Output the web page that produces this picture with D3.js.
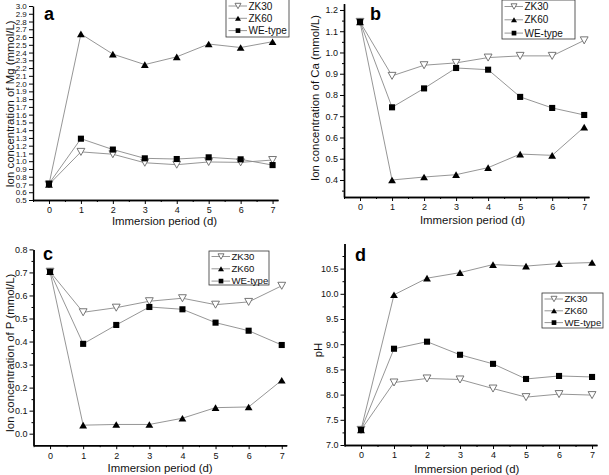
<!DOCTYPE html>
<html><head><meta charset="utf-8">
<script src="https://cdn.jsdelivr.net/npm/d3@7"></script>
<style>body{margin:0;background:#fff}svg{display:block}text{font-family:"Liberation Sans",Arial,sans-serif}</style>
</head><body><svg id="c" width="609" height="475"></svg>
<script>
const days = [0,1,2,3,4,5,6,7];
const seriesNames = ["ZK30","ZK60","WE-type"];
const mgZK30 = [0.70,1.12,1.09,0.98,0.955,0.99,0.985,1.015];
const mgZK60 = [0.70,2.64,2.38,2.245,2.345,2.51,2.465,2.54];
const mgWE   = [0.71,1.29,1.15,1.037,1.028,1.05,1.024,0.95];
const caZK30 = [1.144,0.89,0.94,0.951,0.976,0.984,0.984,1.057];
const caZK60 = [1.144,0.40,0.414,0.425,0.458,0.522,0.516,0.649];
const caWE   = [1.144,0.742,0.831,0.927,0.919,0.791,0.739,0.706];
const pZK30 = [0.703,0.527,0.547,0.575,0.588,0.56,0.572,0.642];
const pZK60 = [0.703,0.037,0.04,0.04,0.067,0.113,0.116,0.232];
const pWE   = [0.703,0.39,0.472,0.55,0.54,0.482,0.447,0.385];
const phZK30 = [7.30,8.24,8.32,8.30,8.12,7.95,8.01,7.99];
const phZK60 = [7.30,9.98,10.31,10.42,10.58,10.55,10.60,10.62];
const phWE   = [7.30,8.91,9.05,8.79,8.61,8.31,8.37,8.35];
const mgTicks = d3.range(0.5,3.001,0.1).map(v=>+v.toFixed(1));
const caTicks = [0.4,0.5,0.6,0.7,0.8,0.9,1.0,1.1,1.2];
const pTicks = [0.0,0.1,0.2,0.3,0.4,0.5,0.6,0.7,0.8];
const phTicks = [7.0,7.5,8.0,8.5,9.0,9.5,10.0,10.5];

const svg = d3.select("#c");
const lineCol = "#8a8a8a";

function marker(g, type, x, y, s){
  if(type===0){
    const h=s*0.9;
    g.append("path").attr("d",`M${x-s/2},${y-h/2}L${x+s/2},${y-h/2}L${x},${y+h/2}Z`)
      .attr("fill","#fff").attr("stroke","#666").attr("stroke-width",0.9);
  } else if(type===1){
    const h=s*0.85;
    g.append("path").attr("d",`M${x-s/2},${y+h/2}L${x+s/2},${y+h/2}L${x},${y-h/2}Z`).attr("fill","#000");
  } else {
    const q=s*0.78;
    g.append("rect").attr("x",x-q/2).attr("y",y-q/2).attr("width",q).attr("height",q).attr("fill","#000");
  }
}

function panel(cfg){
  const g = svg.append("g");
  const x = d3.scaleLinear().domain(cfg.xd).range(cfg.xr);
  const y = d3.scaleLinear().domain(cfg.yd).range(cfg.yr);
  const xa = g.append("g").attr("transform",`translate(0,${cfg.yr[0]})`)
    .call(d3.axisBottom(x).tickValues(days).tickFormat(d3.format("d")).tickSize(4).tickSizeOuter(0));
  g.append("g").attr("transform",`translate(0,${cfg.yr[0]})`)
    .call(d3.axisBottom(x).tickValues(d3.range(-0.5,7.01,1)).tickFormat("").tickSize(2).tickSizeOuter(0));
  const ya = g.append("g").attr("transform",`translate(${cfg.xr[0]},0)`)
    .call(d3.axisLeft(y).tickValues(cfg.ticks).tickFormat(d3.format(cfg.fmt)).tickSize(4).tickSizeOuter(0));
  if(cfg.minor){
    g.append("g").attr("transform",`translate(${cfg.xr[0]},0)`)
      .call(d3.axisLeft(y).tickValues(cfg.minor).tickFormat("").tickSize(2).tickSizeOuter(0));
  }
  g.selectAll(".domain").attr("stroke","#000").attr("stroke-width",1.4);
  g.selectAll(".tick line").attr("stroke","#000").attr("stroke-width",1);
  xa.selectAll("text").attr("font-size",9).attr("fill","#111");
  ya.selectAll("text").attr("font-size",cfg.yfs).attr("dx","0.1em").attr("fill","#111");
  g.append("text").attr("x",(cfg.xr[0]+cfg.xr[1])/2+cfg.xtdx).attr("y",cfg.yr[0]+cfg.xty)
    .attr("text-anchor","middle").attr("font-size",11.4).attr("fill","#111").text("Immersion period (d)");
  g.append("text").attr("transform",`translate(${cfg.ytx},${cfg.yty}) rotate(-90)`)
    .attr("text-anchor","middle").attr("font-size",11.4).attr("fill","#111").text(cfg.ytitle);
  g.append("text").attr("x",cfg.lx).attr("y",cfg.ly).attr("font-size",18).attr("font-weight","bold")
    .attr("fill","#000").text(cfg.letter);
  const line = d3.line().x((d,i)=>x(days[i])).y(d=>y(d));
  cfg.series.forEach(s=>{
    g.append("path").attr("d",line(s)).attr("fill","none").attr("stroke",lineCol).attr("stroke-width",0.9);
  });
  cfg.series.forEach((s,k)=>{
    s.forEach((v,i)=>marker(g,k,x(days[i]),y(v),7.8));
  });
  const L = cfg.leg;
  const lg = g.append("g");
  lg.append("rect").attr("x",L.x).attr("y",L.y).attr("width",L.w).attr("height",L.h)
    .attr("fill","#fff").attr("stroke","#333").attr("stroke-width",0.8);
  seriesNames.forEach((n,k)=>{
    const yy = L.y + L.r0 + k*L.dr;
    lg.append("line").attr("x1",L.x+2.5).attr("x2",L.x+21).attr("y1",yy).attr("y2",yy)
      .attr("stroke",lineCol).attr("stroke-width",0.9);
    marker(lg,k,L.x+12,yy,6);
    lg.append("text").attr("x",L.x+22.5).attr("y",yy).attr("dy","0.35em").attr("font-size",L.fs)
      .attr("fill","#111").text(n);
  });
}

panel({xd:[-0.5,7.17],xr:[33,278],yd:[0.5,3.0],yr:[200,6],ticks:mgTicks,fmt:".1f",yfs:8,
  series:[mgZK30,mgZK60,mgWE],ytitle:"Ion concentration of Mg (mmol/L)",ytx:14,yty:104,xtdx:9,xty:25,
  letter:"a",lx:44,ly:20,leg:{x:226,y:-1,w:63,h:38,r0:7,dr:12.3,fs:10}});
panel({xd:[-0.5,7.15],xr:[344,589],yd:[0.32,1.23],yr:[197,3.6],ticks:caTicks,fmt:".1f",yfs:9,
  minor:d3.range(0.35,1.21,0.1),
  series:[caZK30,caZK60,caWE],ytitle:"Ion concentration of Ca (mmol/L)",ytx:319,yty:98,xtdx:6,xty:27,
  letter:"b",lx:370,ly:20,leg:{x:502,y:0,w:73,h:39,r0:6.5,dr:13.3,fs:10}});
panel({xd:[-0.5,7.15],xr:[33.5,286.7],yd:[-0.05,0.8],yr:[445.2,249.4],ticks:pTicks,fmt:".1f",yfs:9,
  minor:d3.range(0.05,0.8,0.1),
  series:[pZK30,pZK60,pWE],ytitle:"Ion concentration of P (mmol/L)",ytx:14,yty:353,xtdx:0,xty:27,
  letter:"c",lx:43,ly:260,leg:{x:209,y:251,w:60,h:34,r0:5.5,dr:12.3,fs:9.6}});
panel({xd:[-0.5,7.15],xr:[344.5,597],yd:[7,11],yr:[445,243.4],ticks:phTicks,fmt:".1f",yfs:9,
  minor:d3.range(7.25,10.8,0.5),
  series:[phZK30,phZK60,phWE],ytitle:"pH",ytx:322,yty:350,xtdx:-4,xty:28,
  letter:"d",lx:355,ly:261,leg:{x:542,y:293,w:61,h:35,r0:6,dr:11.8,fs:9.6}});
</script></body></html>
